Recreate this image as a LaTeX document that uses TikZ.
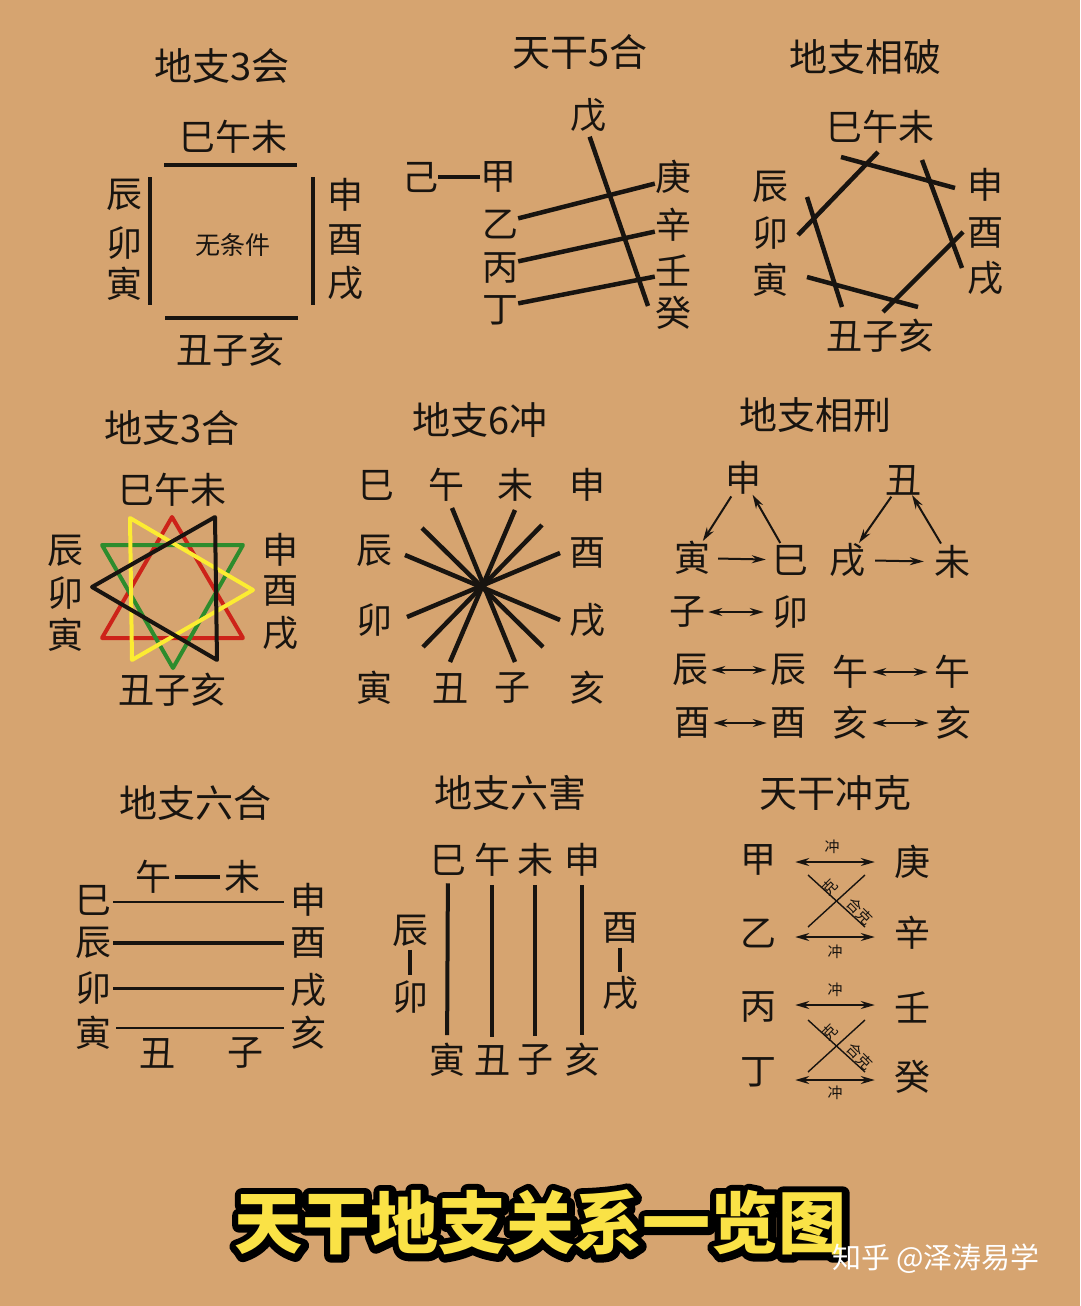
\documentclass[tikz,border=0pt]{standalone}
\usepackage{fontspec}
\setmainfont{Noto Sans CJK SC}
\usetikzlibrary{arrows.meta}
\definecolor{paper}{RGB}{214,164,112}
\definecolor{ink}{RGB}{24,20,16}
\definecolor{triRed}{RGB}{205,35,25}
\definecolor{triGreen}{RGB}{45,140,45}
\definecolor{triYellow}{RGB}{252,236,50}
\definecolor{bannerYellow}{RGB}{250,226,70}
\newcommand\lblfont{\fontsize{36}{36}\selectfont}
\newcommand\bannerfont{\fontsize{68}{68}\selectfont\bfseries}
\newcommand\strokedtext[1]{\special{pdf:literal direct 2 Tr 14 w 1 j}#1\special{pdf:literal direct 0 Tr 1 w}}

\begin{document}
\begin{tikzpicture}[x=1pt,y=-1pt,
    heading/.style={font=\fontsize{38}{38}\selectfont, inner sep=0pt, text=ink},
    lbl/.style={font=\lblfont, inner sep=0pt, text=ink},
    note/.style={font=\fontsize{15}{15}\selectfont, inner sep=0pt, text=ink},
    bar/.style={line width=4.5pt, draw=ink},
    hair/.style={line width=2pt, draw=ink},
    arrowtip/.style={
      hair, -{Stealth[length=14pt,width=8pt]}
    },
    dblarrow/.style={
      hair, {Stealth[length=14pt,width=8pt]}-{Stealth[length=14pt,width=8pt]}
    },
    tri/.style={line width=4pt, line join=round}
  ]
  \fill[paper] (0,0) rectangle (1080,1306);

  % --- 地支3会
  \node[heading] (HuiTitle) at (222,66) {地支3会};
  \node[lbl] (HuiTop) at (233,137) {巳午未};
  \node[lbl] (HuiBot) at (230,350) {丑子亥};
  \node[lbl] (HuiChen) at (124,195) {辰};
  \node[lbl] (HuiMao) at (124,243) {卯};
  \node[lbl] (HuiYin) at (124,284) {寅};
  \node[lbl] (HuiShen) at (345,195) {申};
  \node[lbl] (HuiYou) at (345,240) {酉};
  \node[lbl] (HuiXu) at (345,283) {戌};
  \node[font=\fontsize{25}{25}\selectfont, inner sep=0pt, text=ink] (HuiMid) at (233,245) {无条件};
  \draw[bar] (164,165) -- (297,165);
  \draw[bar] (150,177) -- (150,305);
  \draw[bar] (313,177) -- (313,305);
  \draw[bar] (165,318) -- (298,318);

  % --- 天干5合
  \node[heading] (HeTitle) at (580,52) {天干5合};
  \node[lbl] (Wu) at (588,115) {戊};
  \node[lbl] (Ji) at (420,177) {己};
  \node[lbl] (Jia) at (498,177) {甲};
  \node[lbl] (Yi) at (500,225) {乙};
  \node[lbl] (Bing) at (500,268) {丙};
  \node[lbl] (Ding) at (500,310) {丁};
  \node[lbl] (Geng) at (673,177) {庚};
  \node[lbl] (Xin) at (673,225) {辛};
  \node[lbl] (Ren) at (673,270) {壬};
  \node[lbl] (Gui) at (673,313) {癸};
  \coordinate (WuEnd) at (648,306);
  \draw[bar] (Ji) -- (Jia);
  \draw[bar] (Yi.20) -- (Geng.200);
  \draw[bar] (Bing.20) -- (Xin.200);
  \draw[bar] (Ding.20) -- (Ren.200);
  \draw[bar, shorten <=5pt] (Wu.south) -- (WuEnd);

  % --- 地支相破
  \node[heading] (PoTitle) at (865,57) {地支相破};
  \node[lbl] (PoTop) at (880,127) {巳午未};
  \node[lbl] (PoBot) at (880,336) {丑子亥};
  \node[lbl] (PoChen) at (770,187) {辰};
  \node[lbl] (PoMao) at (770,233) {卯};
  \node[lbl] (PoYin) at (770,280) {寅};
  \node[lbl] (PoShen) at (985,185) {申};
  \node[lbl] (PoYou) at (985,233) {酉};
  \node[lbl] (PoXu) at (985,278) {戌};
  \draw[bar] (841,157) -- (955,188);
  \draw[bar] (878,152) -- (798,235);
  \draw[bar] (807,197) -- (842,307);
  \draw[bar] (807,277) -- (918,307);
  \draw[bar] (883,312) -- (963,232);
  \draw[bar] (922,160) -- (962,268);

  % --- 地支3合
  \node[heading] (SanTitle) at (172,428) {地支3合};
  \node[lbl] (SanTop) at (172,490) {巳午未};
  \node[lbl] (SanBot) at (172,690) {丑子亥};
  \node[lbl] (SanChen) at (65,551) {辰};
  \node[lbl] (SanMao) at (65,593) {卯};
  \node[lbl] (SanYin) at (65,635) {寅};
  \node[lbl] (SanShen) at (280,550) {申};
  \node[lbl] (SanYou) at (280,591) {酉};
  \node[lbl] (SanXu) at (280,633) {戌};
  \draw[tri, triRed] (172,517) -- (102,638) -- (243,638) -- cycle;
  \draw[tri, triGreen] (102,545) -- (243,545) -- (173,668) -- cycle;
  \draw[tri, triYellow] (130,518) -- (132,660) -- (253,590) -- cycle;
  \draw[tri, ink] (92,587) -- (215,517) -- (217,660) -- cycle;

  % --- 地支6冲
  \node[heading] (ChongTitle) at (480,420) {地支6冲};
  \node[lbl] (CSi) at (376,485) {巳};
  \node[lbl] (CWu) at (446,485) {午};
  \node[lbl] (CWei) at (515,485) {未};
  \node[lbl] (CShen) at (587,485) {申};
  \node[lbl] (CChen) at (374,551) {辰};
  \node[lbl] (CMao) at (374,620) {卯};
  \node[lbl] (CYin) at (374,688) {寅};
  \node[lbl] (CYou) at (587,553) {酉};
  \node[lbl] (CXu) at (587,620) {戌};
  \node[lbl] (CHai) at (587,688) {亥};
  \node[lbl] (CChou) at (450,688) {丑};
  \node[lbl] (CZi) at (512,688) {子};
  \foreach \ax/\ay/\bx/\by in {452/508/515/662, 515/510/450/662, 405/555/560/620,
      560/553/407/617, 422/528/543/647, 542/525/423/647}
    \draw[bar] (\ax,\ay) -- (\bx,\by);

  % --- 地支相刑
  \node[heading] (XingTitle) at (815,415) {地支相刑};
  \node[lbl] (XShen) at (743,478) {申};
  \node[lbl] (XChou) at (903,480) {丑};
  \node[lbl] (XYin) at (692,558) {寅};
  \node[lbl] (XSi) at (790,560) {巳};
  \node[lbl] (XXu) at (847,560) {戌};
  \node[lbl] (XWei) at (952,562) {未};
  \node[lbl] (XZi) at (687,612) {子};
  \node[lbl] (XMao) at (790,612) {卯};
  \node[lbl] (XChenA) at (690,670) {辰};
  \node[lbl] (XChenB) at (788,670) {辰};
  \node[lbl] (XWuA) at (850,672) {午};
  \node[lbl] (XWuB) at (952,672) {午};
  \node[lbl] (XYouA) at (692,723) {酉};
  \node[lbl] (XYouB) at (788,723) {酉};
  \node[lbl] (XHaiA) at (850,723) {亥};
  \node[lbl] (XHaiB) at (953,723) {亥};
  \draw[arrowtip, shorten <=2pt] (XShen) -- (XYin);
  \draw[arrowtip, shorten <=2pt] (XSi) -- (XShen);
  \draw[arrowtip, shorten <=8pt, shorten >=6pt] (XYin) -- (XSi);
  \draw[arrowtip, shorten <=2pt] (XChou) -- (XXu);
  \draw[arrowtip, shorten <=2pt] (XWei) -- (XChou);
  \draw[arrowtip, shorten <=10pt, shorten >=10pt] (XXu) -- (XWei);
  \draw[dblarrow, shorten <=3pt, shorten >=8pt] (XZi) -- (XMao);
  \draw[dblarrow, shorten <=3pt, shorten >=3pt] (XChenA) -- (XChenB);
  \draw[dblarrow, shorten <=3pt, shorten >=3pt] (XYouA) -- (XYouB);
  \draw[dblarrow, shorten <=4pt, shorten >=6pt] (XWuA) -- (XWuB);
  \draw[dblarrow, shorten <=4pt, shorten >=6pt] (XHaiA) -- (XHaiB);

  % --- 地支六合
  \node[heading] (LiuheTitle) at (195,803) {地支六合};
  \node[lbl] (LWu) at (153,877) {午};
  \node[lbl] (LWei) at (242,877) {未};
  \node[lbl] (LSi) at (93,900) {巳};
  \node[lbl] (LChen) at (93,943) {辰};
  \node[lbl] (LMao) at (93,988) {卯};
  \node[lbl] (LYin) at (93,1033) {寅};
  \node[lbl] (LShen) at (308,900) {申};
  \node[lbl] (LYou) at (308,943) {酉};
  \node[lbl] (LXu) at (308,990) {戌};
  \node[lbl] (LHai) at (308,1033) {亥};
  \node[lbl] (LChou) at (157,1053) {丑};
  \node[lbl] (LZi) at (245,1053) {子};
  \draw[bar, shorten <=4pt, shorten >=4pt] (LWu) -- (LWei);
  \draw[hair, shorten <=2pt, shorten >=6pt] (LSi.east |- 0,902) -- (LShen.west |- 0,902);
  \draw[line width=4pt, ink, shorten <=2pt, shorten >=6pt] (LChen.east) -- (LYou.west);
  \draw[line width=3pt, ink, shorten <=2pt, shorten >=6pt] (LMao.east) -- (LXu.west |- LMao.east);
  \draw[line width=2.5pt, ink, shorten <=5pt, shorten >=6pt] (LYin.east |- 0,1028) -- (LHai.west |- 0,1028);

  % --- 地支六害
  \node[heading] (HaiTitle) at (510,793) {地支六害};
  \node[lbl] (HSi) at (448,860) {巳};
  \node[lbl] (HWu) at (492,860) {午};
  \node[lbl] (HWei) at (535,860) {未};
  \node[lbl] (HShen) at (582,860) {申};
  \node[lbl] (HYin) at (447,1060) {寅};
  \node[lbl] (HChou) at (492,1060) {丑};
  \node[lbl] (HZi) at (535,1060) {子};
  \node[lbl] (HHai) at (582,1060) {亥};
  \node[lbl] (HChen) at (410,931) {辰};
  \node[lbl] (HMao) at (410,997) {卯};
  \node[lbl] (HYou) at (620,928) {酉};
  \node[lbl] (HXu) at (620,993) {戌};
  \foreach \top/\bot in {HSi/HYin, HWu/HChou, HWei/HZi, HShen/HHai}
    \draw[bar, line width=4pt, shorten <=8pt, shorten >=8pt] (\top) -- (\bot);
  \draw[line width=3.5pt, ink, shorten <=3pt, shorten >=5pt] (HChen) -- (HMao);
  \draw[line width=3.5pt, ink, shorten <=4pt, shorten >=4pt] (HYou) -- (HXu);

  % --- 天干冲克
  \node[heading] (KeTitle) at (835,793) {天干冲克};
  \node[lbl] (KJia) at (758,860) {甲};
  \node[lbl] (KYi) at (758,933) {乙};
  \node[lbl] (KBing) at (758,1007) {丙};
  \node[lbl] (KDing) at (758,1072) {丁};
  \node[lbl] (KGeng) at (912,862) {庚};
  \node[lbl] (KXin) at (912,933) {辛};
  \node[lbl] (KRen) at (912,1007) {壬};
  \node[lbl] (KGui) at (912,1077) {癸};
  \draw[dblarrow, shorten <=19pt, shorten >=19pt] (KJia.east |- 0,862) -- (KGeng.west |- 0,862);
  \draw[dblarrow, shorten <=19pt, shorten >=19pt] (KYi.east |- 0,937) -- (KXin.west |- 0,937);
  \draw[dblarrow, shorten <=19pt, shorten >=19pt] (KBing.east |- 0,1005) -- (KRen.west |- 0,1005);
  \draw[dblarrow, shorten <=19pt, shorten >=19pt] (KDing.east |- 0,1080) -- (KGui.west |- 0,1080);
  \node[note] (KChongA) at (832,847) {冲};
  \node[note] (KChongB) at (835,952) {冲};
  \node[note] (KChongC) at (835,990) {冲};
  \node[note] (KChongD) at (835,1093) {冲};
  \foreach \dy/\nm in {0/A, 145/B} {
    \draw[line width=1.4pt, ink] (808,875+\dy) -- (865,927+\dy);
    \draw[line width=1.4pt, ink] (808,927+\dy) -- (865,875+\dy);
    \node[note, rotate=45] (KKe\nm) at (830,887+\dy) {克};
    \node[note, rotate=-45] (KHeKe\nm) at (860,911+\dy) {合克};
  }

  % --- banner
  \node[font=\bannerfont, inner sep=0pt, text=black] (BannerEdge) at (541,1223) {\strokedtext{天干地支关系一览图}};
  \node[font=\bannerfont, inner sep=0pt, text=bannerYellow] (Banner) at (540,1222) {天干地支关系一览图};
  \node[font=\fontsize{29}{29}\selectfont, inner sep=0pt, text=white] (Mark) at (936,1259) {知乎 @泽涛易学};
\end{tikzpicture}
\end{document}
